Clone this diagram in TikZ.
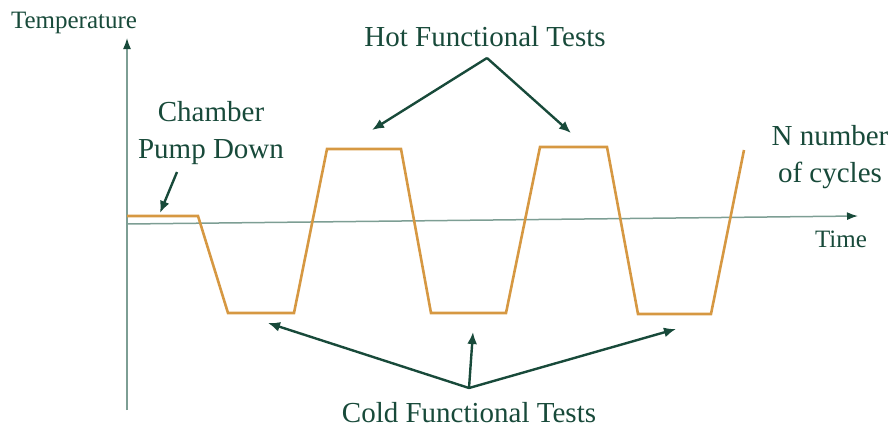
\documentclass[tikz,border=0pt]{standalone}
\usepackage{fontspec}
\setmainfont{Liberation Serif}
\usetikzlibrary{arrows.meta}
\definecolor{darkgreen}{RGB}{24,74,58}
\definecolor{axisgray}{RGB}{125,158,148}
\definecolor{ochre}{RGB}{214,152,66}
\tikzset{
    x=1pt,
    y=-1pt,
    lbl/.style = {
        text=darkgreen,
        inner sep=0pt,
        anchor=base,
        align=center,
        font=\fontsize{29}{36.5}\selectfont
    },
    axislbl/.style = {
        lbl,
        font=\fontsize{25}{30}\selectfont
    },
    axis/.style = {
        draw=axisgray,
        line width=1.5pt,
        -{Latex[length=11pt,width=8pt,color=darkgreen]}
    },
    profile/.style = {
        draw=ochre,
        line width=2.6pt,
        line join=miter
    },
    pointer/.style = {
        draw=darkgreen,
        line width=2.4pt,
        -{Latex[length=12pt,width=10pt]}
    },
}
\begin{document}
\begin{tikzpicture}
    \useasboundingbox (0,0) rectangle (894,429);

    % axes
    \coordinate (origin) at (127,224);
    \coordinate (ybottom) at (127,410);
    \coordinate (ytop)   at (127,38);
    \coordinate (xend)   at (858,216);
    \path[axis] (ybottom) -- (ytop);
    \path[axis] (origin) -- (xend);

    % temperature profile
    \path[profile] (127,216) -- (198,216) -- (228,313) -- (294,313)
        -- (327,149) -- (401,149) -- (431,313) -- (506,313)
        -- (540,147) -- (607,147) -- (638,314) -- (711,314) -- (744,150);

    % labels (base = last line)
    \node[axislbl] (templbl) at (74,28)  {Temperature};
    \node[axislbl] (timelbl) at (841,247) {Time};
    \node[lbl] (chamber) at (211,158) {Chamber\\Pump Down};
    \node[lbl] (hot)     at (485,46)  {Hot Functional Tests};
    \node[lbl] (cold)    at (469,422) {Cold Functional Tests};
    \node[lbl] (cycles)  at (830,182) {N number\\of cycles};

    % pointer ends
    \coordinate (chsrc)  at (177,172);
    \coordinate (chtip)  at (160,213);
    \coordinate (hotsrc) at (487,58);
    \coordinate (hottipa) at (372,130);
    \coordinate (hottipb) at (571,133);
    \coordinate (coldsrc) at (469,388);
    \coordinate (coldtipa) at (268,323);
    \coordinate (coldtipb) at (473,332);
    \coordinate (coldtipc) at (676,329);

    \path[pointer] (chsrc) -- (chtip);
    \path[pointer] (hotsrc) -- (hottipa);
    \path[pointer] (hotsrc) -- (hottipb);
    \path[pointer] (coldsrc) -- (coldtipa);
    \path[pointer] (coldsrc) -- (coldtipb);
    \path[pointer] (coldsrc) -- (coldtipc);
\end{tikzpicture}
\end{document}
